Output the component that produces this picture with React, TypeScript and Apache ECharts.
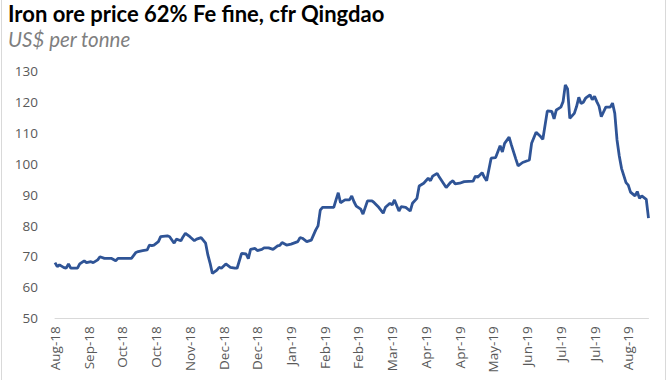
import React, { useEffect, useRef } from "react";
import * as echarts from "echarts";

// trading-day index (0 = 20 Aug 2018), one tick label every 15 trading days
const tickLabels = [
  "Aug-18", "Sep-18", "Oct-18", "Oct-18", "Nov-18", "Dec-18", "Dec-18", "Jan-19", "Feb-19",
  "Feb-19", "Mar-19", "Apr-19", "Apr-19", "May-19", "Jun-19", "Jul-19", "Jul-19", "Aug-19",
];

const days = [
  0, 1, 2, 4, 5, 6, 7, 9, 10, 11, 13, 14, 16, 17, 19, 20, 22, 25, 27, 28, 34, 36, 37, 39, 41, 42, 43, 44, 46, 47,
  50, 51, 53, 54, 56, 57, 58, 60, 62, 63, 65, 67, 68, 69, 70, 72, 73, 74, 76, 78, 80, 81, 83, 85, 86, 87, 89, 90,
  92, 93, 95, 97, 99, 100, 101, 103, 105, 108, 109, 110, 112, 114, 116, 117, 118, 119, 124, 125, 126, 127, 129,
  131, 132, 133, 134, 136, 137, 139, 141, 142, 144, 146, 147, 149, 150, 151, 153, 154, 156, 158, 159, 161, 162,
  164, 166, 167, 168, 170, 171, 174, 176, 177, 178, 180, 182, 186, 187, 188, 190, 191, 192, 194, 196, 198, 199,
  200, 202, 203, 205, 206, 208, 211, 212, 214, 216, 217, 219, 221, 222, 223, 225, 226, 227, 228, 229, 231, 232,
  233, 234, 235, 236, 238, 239, 240, 241, 242, 243, 245, 247, 248, 249, 250, 251, 252, 254, 255, 256, 258, 259,
  260, 261, 263, 264,
];

const prices = [
  68.0, 66.7, 67.3, 66.4, 66.2, 67.6, 66.2, 66.2, 66.2, 67.6, 68.6, 68.0, 68.3, 68.0, 68.9, 69.9, 69.4, 69.4, 68.6, 69.4,
  69.4, 71.3, 71.6, 71.9, 72.1, 73.7, 73.5, 73.7, 74.8, 76.4, 76.7, 76.4, 74.3, 75.6, 75.1, 76.4, 77.5, 76.4, 75.1, 75.6,
  76.1, 74.3, 70.5, 67.8, 64.5, 65.6, 66.5, 66.2, 67.6, 66.5, 66.2, 66.2, 71.0, 70.8, 69.3, 72.3, 72.6, 71.9, 72.3, 72.8,
  72.8, 72.3, 73.4, 73.6, 74.5, 73.7, 74.0, 74.8, 76.1, 75.9, 74.8, 75.3, 78.6, 79.9, 85.0, 85.9, 85.9, 88.3, 90.6, 87.4,
  88.3, 88.3, 89.6, 87.7, 86.3, 85.3, 83.7, 88.0, 88.0, 87.4, 85.9, 84.0, 85.9, 87.2, 86.7, 88.3, 84.7, 86.1, 85.9, 84.7,
  87.2, 88.8, 92.8, 93.7, 95.3, 94.5, 96.0, 96.9, 95.6, 92.3, 94.0, 94.5, 93.5, 93.7, 94.2, 94.4, 96.0, 95.6, 97.1, 95.6,
  94.5, 101.8, 102.0, 105.8, 103.8, 106.6, 108.6, 106.1, 101.5, 99.3, 100.4, 101.2, 106.6, 110.2, 108.8, 107.9, 117.1,
  116.9, 114.5, 117.4, 118.3, 120.1, 125.5, 124.2, 114.7, 116.3, 118.5, 121.5, 119.5, 119.9, 121.2, 122.3, 120.7, 121.8,
  120.1, 118.6, 115.2, 118.3, 118.3, 119.6, 116.3, 107.7, 102.5, 98.5, 93.9, 93.1, 90.8, 89.6, 91.0, 88.8, 89.6, 88.5,
  82.4,
];

const titleText = "Iron ore price 62% Fe fine, cfr Qingdao";
const subtitleText = "US$ per tonne";

export default function App() {
  const ref = useRef<HTMLDivElement>(null);

  useEffect(() => {
    if (!ref.current) return;
    const chart = echarts.init(ref.current, undefined, { renderer: "svg" });
    const font = "'Open Sans', sans-serif";
    chart.setOption({
      animation: false,
      backgroundColor: "#ffffff",
      textStyle: { fontFamily: font },
      grid: {
        left: 55,
        right: 21.5,
        top: 71,
        bottom: 61.7,
        containLabel: false,
        outerBoundsMode: "none",
      },
      graphic: [
        {
          type: "text",
          left: 8,
          top: 2,
          style: {
            text: titleText,
            font: "bold 22px Lato, sans-serif",
            fill: "#000000",
          },
        },
        {
          type: "text",
          left: 8,
          top: 29,
          style: {
            text: subtitleText,
            font: "italic 20.5px Lato, sans-serif",
            fill: "#7f7f7f",
          },
        },
        {
          type: "line",
          shape: { x1: 1.5, y1: 0, x2: 1.5, y2: 380 },
          style: { stroke: "#d9d9d9", lineWidth: 1 },
        },
        {
          type: "line",
          shape: { x1: 665.5, y1: 0, x2: 665.5, y2: 380 },
          style: { stroke: "#d9d9d9", lineWidth: 1 },
        },
      ],
      xAxis: {
        type: "value",
        min: 0,
        max: 264,
        interval: 15,
        splitLine: { show: false },
        axisTick: { show: false },
        axisLine: { show: true, lineStyle: { color: "#d9d9d9", width: 1 } },
        axisLabel: {
          rotate: 90,
          margin: 8,
          color: "#595959",
          fontSize: 13.5,
          fontFamily: font,
          showMaxLabel: false,
          formatter: (v: number) => (v % 15 === 0 ? tickLabels[v / 15] ?? "" : ""),
        },
      },
      yAxis: {
        type: "value",
        min: 50,
        max: 130,
        interval: 10,
        splitLine: { show: false },
        axisTick: { show: false },
        axisLine: { show: false },
        axisLabel: {
          margin: 17,
          color: "#595959",
          fontSize: 13.5,
          fontFamily: font,
        },
      },
      series: [
        {
          type: "line",
          data: days.map((d, i) => [d, prices[i]]),
          symbol: "none",
          lineStyle: { color: "#2f5496", width: 2.8 },
          z: 3,
        },
      ],
    });
    return () => chart.dispose();
  }, []);

  return (
    <div
      ref={ref}
      style={{ position: "absolute", left: 0, top: 0, width: 670, height: 380 }}
    />
  );
}
